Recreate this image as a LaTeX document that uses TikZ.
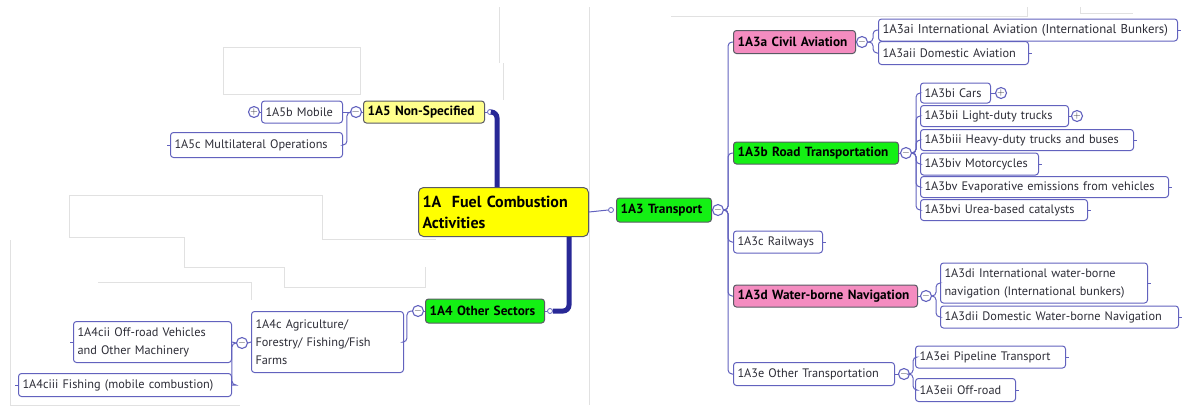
\documentclass[tikz,border=0pt]{standalone}
\usepackage{fontspec}
\setmainfont{PT Sans}
\usetikzlibrary{positioning}

\definecolor{linkblue}{RGB}{98,98,190}
\definecolor{trunkblue}{RGB}{40,40,150}
\definecolor{rootyellow}{RGB}{255,255,0}
\definecolor{paleyellow}{RGB}{255,255,140}
\definecolor{topicgreen}{RGB}{20,240,20}
\definecolor{topicpink}{RGB}{244,140,192}
\definecolor{edgegray}{RGB}{90,90,100}
\definecolor{ghostgray}{RGB}{225,225,225}
\definecolor{inkgray}{RGB}{45,45,55}

\begin{document}
\begin{tikzpicture}[x=1pt,y=-1pt,
  leaf/.style={draw=linkblue, fill=white, line width=1pt, rounded corners=3pt,
    anchor=west, align=left, inner xsep=4pt, inner ysep=2pt, minimum height=22pt,
    font=\fontsize{12.3}{18}\selectfont, text=inkgray},
  topic/.style={leaf, draw=edgegray, font=\bfseries\fontsize{13.3}{18}\selectfont, text=black},
  fold/.style={circle, draw=linkblue, fill=white, line width=1.1pt, inner sep=0pt,
    minimum size=11pt, font=\bfseries\fontsize{10}{10}\selectfont, text=inkgray},
  knob/.style={circle, draw=linkblue, fill=white, line width=0.8pt, inner sep=0pt, minimum size=5pt},
  link/.style={draw=linkblue, line width=1pt, rounded corners=4pt},
  trunk/.style={draw=trunkblue, line width=5pt, rounded corners=6pt},
  ghost/.style={draw=ghostgray, line width=0.6pt},
  stub/.style={draw=linkblue, line width=0.8pt}]
\useasboundingbox (0,0) rectangle (1182,408);

% faint frame lines left over in the screenshot
\draw[ghost] (223,47) rectangle (360,94);
\draw[ghost] (499,7) -- (499,63) (503,63) -- (503,100);
\draw[ghost] (589,7) -- (589,405);
\draw[ghost] (671,16) -- (1027,16) -- (1027,7);
\draw[ghost] (1080,7) -- (1080,13) -- (1133,13);
\draw[ghost] (69,237) -- (69,195) -- (322,195) -- (322,239) -- (436,239);
\draw[ghost] (69,237) -- (184,237) -- (184,267) -- (284,267) -- (284,287) -- (425,287) -- (425,267);
\draw[ghost] (98,282) -- (251,282) -- (251,300);
\draw[ghost] (10,240) -- (10,405) -- (240,405);

% central topic
\node[topic, fill=rootyellow, text width=162pt, minimum height=49pt, rounded corners=5pt,
  font=\bfseries\fontsize{16}{21}\selectfont] (root) at (418,212) {1A\ \ Fuel Combustion\\Activities};

% left branch: 1A5
\node[topic, fill=paleyellow, text width=113pt] (n5) at (363,112) {1A5 Non-Specified};
\node[knob] (k5) at (490,112) {};
\node[fold] (c5) at (356,112) {$-$};
\node[leaf, text width=73pt] (n5b) at (261,112) {1A5b Mobile};
\node[fold] (p5b) at (254,112) {$+$};
\node[leaf, text width=164pt, minimum height=25pt] (n5c) at (170,145) {1A5c Multilateral Operations};

% left branch: 1A4
\node[topic, fill=topicgreen, text width=111pt, minimum height=24pt] (n4) at (425,311) {1A4 Other Sectors};
\node[knob] (k4) at (550,311) {};
\node[fold] (c4) at (418,311) {$-$};
\node[leaf, text width=144pt, minimum height=61pt] (n4c) at (251,342) {1A4c Agriculture/\\Forestry/ Fishing/Fish\\Farms};
\node[fold] (c4c) at (242,343) {$-$};
\node[leaf, text width=150pt, minimum height=41pt] (n4cii) at (73,342) {1A4cii Off-road Vehicles\\and Other Machinery};
\node[leaf, text width=205pt, minimum height=23pt] (n4ciii) at (18,385) {1A4ciii Fishing (mobile combustion)};

% right branch: 1A3
\node[topic, fill=topicgreen, text width=87pt, minimum height=24pt] (n3) at (616,210) {1A3 Transport};
\node[knob] (k3) at (611,210) {};
\node[fold] (c3) at (718,210) {$-$};

\node[topic, fill=topicpink, text width=114pt, minimum height=23pt] (n3a) at (733,42) {1A3a Civil Aviation};
\node[fold] (c3a) at (862,42) {$-$};
\node[leaf, text width=291pt, font=\fontsize{12.8}{18}\selectfont] (n3ai) at (878,30) {1A3ai International Aviation (International Bunkers)};
\node[leaf, text width=142pt, minimum height=23pt] (n3aii) at (878,53) {1A3aii Domestic Aviation};

\node[topic, fill=topicgreen, text width=157pt] (n3b) at (733,153) {1A3b Road Transportation};
\node[fold] (c3b) at (906,153) {$-$};
\node[leaf, text width=62pt, minimum height=20pt] (n3bi) at (920,93) {1A3bi Cars};
\node[fold] (p3bi) at (1001,93) {$+$};
\node[leaf, text width=140pt, minimum height=21pt] (n3bii) at (920,116) {1A3bii Light-duty trucks};
\node[fold] (p3bii) at (1077,116) {$+$};
\node[leaf, text width=205pt, minimum height=21pt] (n3biii) at (920,140) {1A3biii Heavy-duty trucks and buses};
\node[leaf, text width=110pt] (n3biv) at (920,164) {1A3biv Motorcycles};
\node[leaf, text width=240pt, minimum height=21pt] (n3bv) at (920,187) {1A3bv Evaporative emissions from vehicles};
\node[leaf, text width=159pt, minimum height=21pt] (n3bvi) at (920,210) {1A3bvi Urea-based catalysts};

\node[leaf, text width=81pt] (n3c) at (733,242) {1A3c Railways};

\node[topic, fill=topicpink, text width=176pt] (n3d) at (733,296) {1A3d Water-borne Navigation};
\node[fold] (c3d) at (926,296) {$-$};
\node[leaf, text width=199pt, minimum height=40pt] (n3di) at (940,283) {1A3di International water-borne\\navigation (International bunkers)};
\node[leaf, text width=230pt] (n3dii) at (940,317) {1A3dii Domestic Water-borne Navigation};

\node[leaf, text width=153pt, minimum height=23pt] (n3e) at (733,374) {1A3e Other Transportation};
\node[fold] (c3e) at (904,374) {$-$};
\node[leaf, text width=142pt] (n3ei) at (915,357) {1A3ei Pipeline Transport};
\node[leaf, text width=92pt, minimum height=23pt] (n3eii) at (915,390) {1A3eii Off-road};

% main trunk
\draw[trunk] (k5.east) -| ([xshift=79pt]root.north west);
\draw[trunk] (k4.east) -| ([xshift=151pt]root.south west);
\draw[link] (root.east) -- (k3.west);
\draw[link] (n5.east) -- (k5.west);
\draw[link] (n4.east) -- (k4.west);

% links to children
\draw[link] (c5.east) -- (n5.west);
\draw[link] (c5.west) -- (n5b.east);
\draw[link] (c5.west) -- ++(-3,0) |- (n5c.east);
\draw[link] (p5b.east) -- (n5b.west);
\draw[link] (c4.east) -- (n4.west);
\draw[link] (c4.west) -- ++(-5,0) |- (n4c.east);
\draw[link] (c4c.east) -- (n4c.west);
\draw[link] (c4c.west) -- (n4cii.east);
\draw[link] (c4c.west) -- ++(-4,0) |- (n4ciii.east);
\draw[link] (n3.east) -- (c3.west);
\foreach \t in {n3a,n3b,n3c,n3d,n3e}
  \draw[link] (c3.east) -- ++(4,0) |- (\t.west);
\draw[link] (n3a.east) -- (c3a.west);
\foreach \t in {n3ai,n3aii}
  \draw[link] (c3a.east) -- ++(5,0) |- (\t.west);
\draw[link] (n3b.east) -- (c3b.west);
\foreach \t in {n3bi,n3bii,n3biii,n3biv,n3bv,n3bvi}
  \draw[link] (c3b.east) -- ++(4,0) |- (\t.west);
\draw[link] (n3bi.east) -- (p3bi.west);
\draw[link] (n3bii.east) -- (p3bii.west);
\draw[link] (n3d.east) -- (c3d.west);
\foreach \t in {n3di,n3dii}
  \draw[link] (c3d.east) -- ++(4,0) |- (\t.west);
\draw[link] (n3e.east) -- (c3e.west);
\foreach \t in {n3ei,n3eii}
  \draw[link] (c3e.east) -- ++(3,0) |- (\t.west);

% collapsed-branch stubs
\foreach \t in {n3ai,n3aii,n3biii,n3biv,n3bv,n3bvi,n3c,n3di,n3dii,n3ei,n3eii}
  \draw[stub] (\t.east) -- ++(3,0);
\foreach \t in {n5c,n4cii,n4ciii}
  \draw[stub] (\t.west) -- ++(-3,0);
\end{tikzpicture}
\end{document}
